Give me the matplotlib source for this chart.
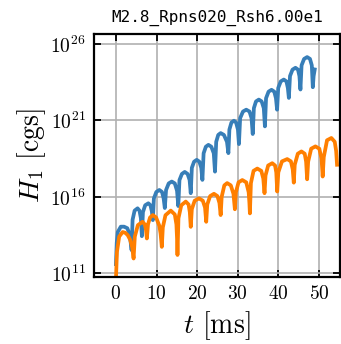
import numpy as np
import matplotlib
matplotlib.use('Agg')
import matplotlib.pyplot as plt
from matplotlib.ticker import FixedLocator, NullLocator

plt.rcParams['font.family'] = 'serif'
plt.rcParams['font.serif'] = ['cmr10']
plt.rcParams['mathtext.fontset'] = 'cm'
plt.rcParams['axes.formatter.use_mathtext'] = True

# time [ms] and log10(H_1 [cgs])
blue_t = [0.0, 0.2, 0.45, 1.2, 2.0, 2.8, 3.3, 3.6, 3.86,
          4.1, 4.6, 5.33, 5.8, 6.15, 6.39,
          6.65, 7.2, 7.99, 8.5, 8.85, 9.09,
          9.35, 9.95, 10.69, 11.35, 11.75, 12.04,
          12.35, 13.0, 13.76, 14.5, 15.05, 15.36,
          15.65, 16.25, 16.95, 17.65, 18.15, 18.43,
          18.7, 19.25, 19.9, 20.55, 21.02, 21.3,
          21.6, 22.15, 22.78, 23.5, 24.1, 24.4,
          24.7, 25.2, 25.8, 26.6, 27.35, 27.7,
          27.95, 28.45, 29.07, 29.6, 30.05, 30.3,
          30.6, 31.3, 32.1, 32.9, 33.4, 33.7,
          33.98, 34.5, 35.2, 35.9, 36.42, 36.7,
          36.98, 37.6, 38.33, 39.0, 39.42, 39.7,
          39.98, 40.6, 41.35, 42.0, 42.35, 42.6,
          42.88, 43.5, 44.23, 44.85, 45.2, 45.45,
          45.73, 46.35, 47.1, 47.8, 48.25, 48.5,
          48.7, 48.97]
blue_logH = [11.6, 13.0, 13.7, 14.05, 14.05, 13.95, 13.6, 13.1, 12.52,
             14.5, 15.1, 15.25, 15.1, 14.6, 13.43,
             15.0, 15.45, 15.58, 15.45, 15.05, 14.48,
             15.9, 16.32, 16.45, 16.32, 15.9, 15.27,
             16.45, 16.88, 17.0, 16.88, 16.4, 15.4,
             17.1, 17.5, 17.63, 17.5, 17.1, 16.24,
             17.9, 18.3, 18.42, 18.3, 17.9, 17.11,
             18.85, 19.28, 19.4, 19.28, 18.85, 17.65,
             19.6, 20.05, 20.17, 20.05, 19.6, 18.86,
             20.4, 20.86, 20.98, 20.86, 20.4, 19.45,
             21.15, 21.58, 21.7, 21.58, 21.15, 20.11,
             21.8, 22.24, 22.36, 22.24, 21.8, 20.61,
             22.45, 22.88, 23.0, 22.88, 22.45, 21.7,
             23.12, 23.55, 23.67, 23.55, 23.12, 22.47,
             23.9, 24.32, 24.44, 24.32, 23.9, 23.02,
             24.6, 25.02, 25.14, 25.02, 24.6, 23.17,
             23.9, 24.33]

orange_t = [0.0, 0.25, 0.8, 1.65, 2.3, 2.9, 3.5, 4.0, 4.35,
            4.65, 5.4, 6.56, 7.1, 7.4, 7.62,
            7.9, 8.4, 9.09, 9.9, 10.7, 11.0, 11.3,
            11.55, 12.2, 13.51, 14.5, 14.9, 15.05, 15.16,
            15.4, 16.1, 17.2, 17.9, 18.2, 18.43,
            18.7, 19.4, 20.47, 21.4, 21.95, 22.24,
            22.5, 23.2, 24.15, 25.0, 25.5, 25.8,
            26.05, 26.7, 27.4, 28.3, 28.95, 29.3,
            29.55, 30.2, 31.13, 32.1, 32.7, 32.88, 33.0,
            33.25, 33.9, 34.82, 35.8, 36.3, 36.6,
            36.85, 37.5, 38.5, 39.2, 39.5, 39.73,
            40.0, 40.9, 42.19, 43.1, 43.55, 43.81,
            44.05, 44.8, 45.7, 46.5, 46.85, 47.1,
            47.35, 48.1, 49.14, 50.1, 50.65, 50.93,
            51.2, 52.0, 53.07, 53.9, 54.25, 54.47]
orange_logH = [10.6, 12.4, 13.4, 13.7, 13.65, 13.5, 13.2, 12.7, 11.97,
               13.4, 14.15, 14.37, 14.2, 13.85, 13.28,
               14.2, 14.65, 14.81, 14.65, 14.1, 13.6, 12.73,
               14.0, 14.8, 15.1, 14.85, 14.2, 13.3, 12.2,
               14.6, 15.45, 15.69, 15.5, 15.0, 14.04,
               15.2, 15.75, 15.9, 15.75, 15.3, 14.37,
               15.5, 16.05, 16.2, 16.05, 15.6, 14.81,
               16.0, 16.75, 16.9, 16.75, 16.2, 15.19,
               16.3, 16.95, 17.1, 16.95, 16.3, 15.6, 14.92,
               16.9, 17.7, 17.85, 17.7, 17.2, 16.24,
               17.4, 18.05, 18.2, 18.05, 17.6, 16.35,
               17.6, 18.32, 18.47, 18.32, 17.8, 16.93,
               18.1, 18.82, 18.97, 18.82, 18.3, 17.15,
               18.3, 19.15, 19.3, 19.15, 18.5, 17.33,
               18.6, 19.7, 19.85, 19.6, 19.0, 18.1]

xticks = [0, 10, 20, 30, 40, 50]
yticks = [1e11, 1e16, 1e21, 1e26]
title = 'M2.8_Rpns020_Rsh6.00e1'

fig = plt.figure(figsize=(3.41, 3.44), dpi=100)
ax = fig.add_axes([0.2757, 0.1948, 0.7214, 0.7064])

ax.plot(blue_t, 10**np.array(blue_logH), color='#377eb8', lw=2.7)
ax.plot(orange_t, 10**np.array(orange_logH), color='#ff7f00', lw=2.7)

ax.set_yscale('log')
ax.set_xlim(-5.4, 55.2)
ax.set_ylim(10**10.76, 10**26.65)
ax.xaxis.set_major_locator(FixedLocator(xticks))
ax.yaxis.set_major_locator(FixedLocator(yticks))
ax.xaxis.set_minor_locator(NullLocator())
ax.yaxis.set_minor_locator(NullLocator())

ax.grid(True, color='#b0b0b0', lw=1.2)
ax.set_axisbelow(True)
for s in ax.spines.values():
    s.set_linewidth(1.6)
ax.tick_params(direction='in', top=True, right=True, length=5, width=1.3,
               labelsize=14, pad=6)

ax.set_xlabel(r'$t$ [ms]', fontsize=20, labelpad=4)
ax.set_ylabel(r'$H_1$ [cgs]', fontsize=20, labelpad=2)
ax.set_title(title, family='DejaVu Sans Mono', fontsize=11.5, pad=9)

fig.savefig('out.png', dpi=100)
